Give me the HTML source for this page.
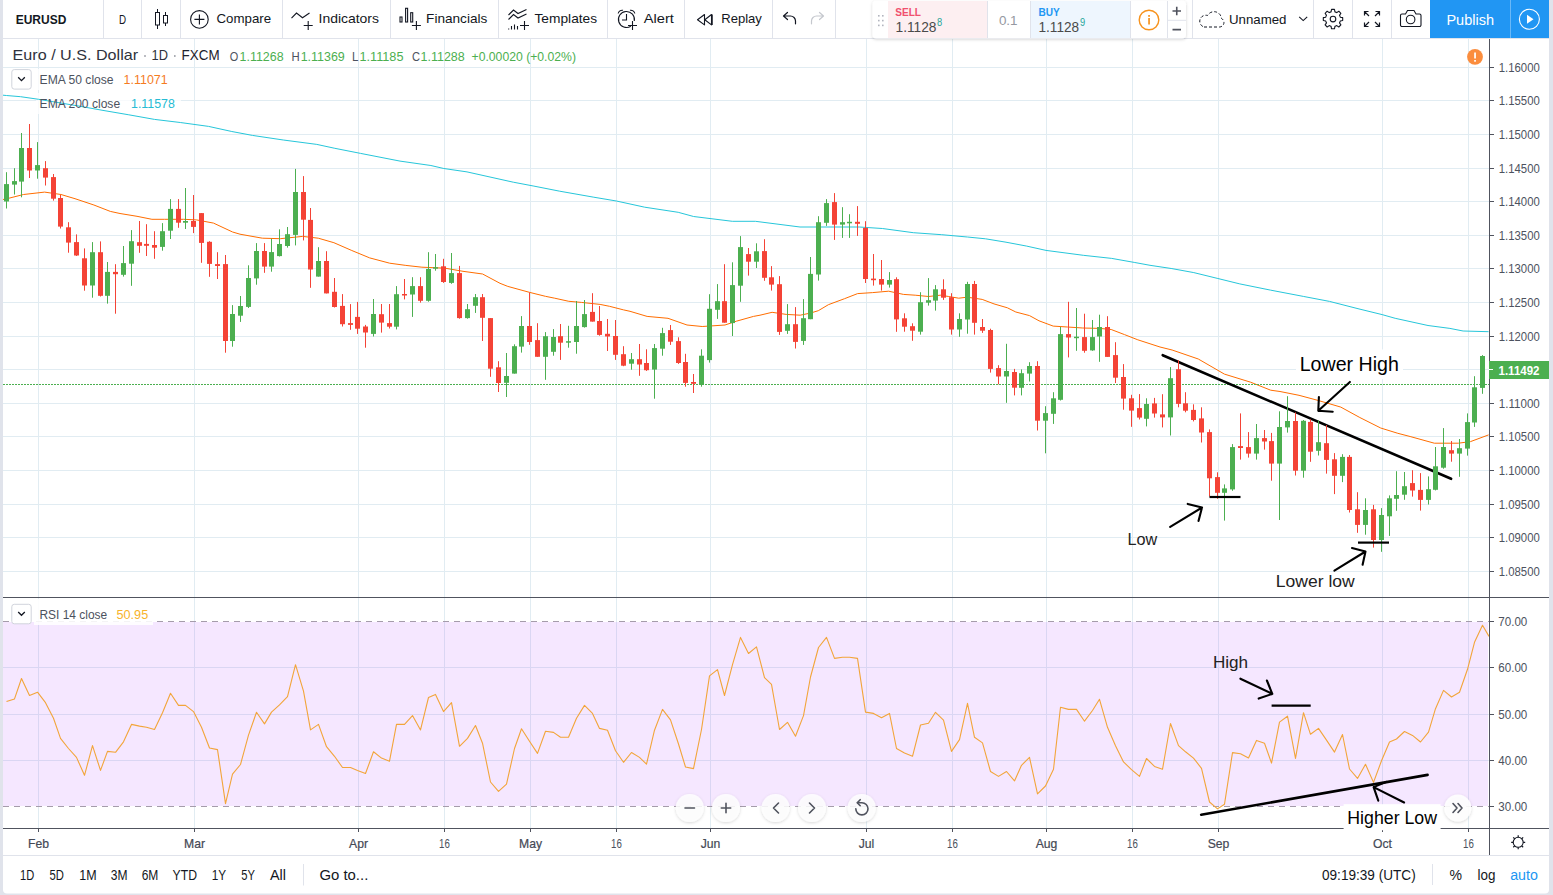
<!DOCTYPE html>
<html><head><meta charset="utf-8"><title>EURUSD chart</title>
<style>
html,body{margin:0;padding:0;background:#e0e3eb;}
body{width:1553px;height:895px;overflow:hidden;}
svg{display:block;font-family:'Liberation Sans', Arial, sans-serif;}
</style></head>
<body>
<svg width="1553" height="895" viewBox="0 0 1553 895">
<rect x="0" y="0" width="1553" height="895" fill="#e0e3eb"/>
<rect x="3" y="0" width="1546" height="38" fill="#fff"/>
<rect x="3" y="39" width="1546" height="816" fill="#fff"/>
<path d="M3 856 H1549 V889.5 a4 4 0 0 1 -4 4 H7 a4 4 0 0 1 -4 -4 Z" fill="#fff"/>
<path d="M38.5 39V597M38.5 598V828M194.5 39V597M194.5 598V828M358.5 39V597M358.5 598V828M444.5 39V597M444.5 598V828M530.5 39V597M530.5 598V828M616.5 39V597M616.5 598V828M710.5 39V597M710.5 598V828M866.5 39V597M866.5 598V828M952.5 39V597M952.5 598V828M1046.5 39V597M1046.5 598V828M1132.5 39V597M1132.5 598V828M1218.5 39V597M1218.5 598V828M1382.5 39V597M1382.5 598V828M1468.5 39V597M1468.5 598V828M3 67.5H1489M3 100.5H1489M3 134.5H1489M3 168.5H1489M3 201.5H1489M3 235.5H1489M3 268.5H1489M3 302.5H1489M3 336.5H1489M3 369.5H1489M3 403.5H1489M3 436.5H1489M3 470.5H1489M3 504.5H1489M3 537.5H1489M3 571.5H1489M3 667.5H1489M3 714.5H1489M3 760.5H1489" stroke="#e1ecf2" stroke-width="1" fill="none"/>
<rect x="36" y="69" width="140" height="21" fill="#fff" fill-opacity="0.75"/>
<rect x="36" y="93" width="145" height="21" fill="#fff" fill-opacity="0.75"/>
<rect x="3" y="622" width="1485" height="184" fill="rgb(153,21,255)" fill-opacity="0.1"/>
<path d="M3 621.5H1489M3 806.5H1489" stroke="#a59cab" stroke-width="1" stroke-dasharray="6 5" fill="none"/>
<path d="M3.0 95.2 L6.4 95.5 L20.6 96.7 L38.6 99.3 L77.3 105.8 L103.0 110.4 L128.8 114.8 L154.5 119.4 L180.3 122.5 L208.6 126.4 L231.8 131.5 L252.4 135.4 L283.3 140.0 L316.8 144.4 L334.8 148.3 L360.6 153.4 L400.0 161.1 L430.9 165.5 L443.8 168.5 L467.0 171.9 L513.3 182.2 L533.9 186.1 L559.7 191.2 L593.2 197.1 L616.4 201.0 L644.7 207.2 L678.2 212.3 L693.6 216.5 L732.3 221.3 L755.4 221.3 L800.0 227.0 L859.2 227.0 L882.4 228.5 L913.3 232.7 L941.7 234.7 L967.4 237.0 L985.5 238.8 L1006.0 242.2 L1026.7 246.1 L1046.0 250.4 L1083.3 255.3 L1111.7 258.4 L1134.8 262.5 L1150.0 265.3 L1171.9 268.6 L1193.8 272.6 L1217.9 278.5 L1239.8 283.9 L1270.4 290.1 L1303.3 296.4 L1329.5 301.4 L1358.0 308.7 L1382.1 314.6 L1395.2 318.3 L1428.0 325.5 L1449.9 328.4 L1463.1 331.0 L1488.6 331.7" stroke="#26c6da" stroke-width="1.0" fill="none" stroke-linejoin="round"/>
<path d="M3.0 199.5 L7.0 198.7 L23.5 194.5 L44.6 192.1 L61.0 194.5 L75.0 198.7 L93.9 205.0 L110.3 211.4 L120.0 213.5 L137.0 216.3 L151.9 219.3 L164.6 219.3 L183.7 219.3 L196.5 219.9 L213.5 223.1 L232.6 232.0 L240.0 234.2 L262.4 238.2 L280.3 238.7 L302.6 236.4 L318.3 238.2 L333.9 242.7 L351.8 250.5 L369.7 257.9 L389.7 263.2 L405.8 265.4 L421.9 267.2 L445.1 268.2 L463.0 271.3 L482.6 274.0 L500.0 283.3 L507.8 286.4 L529.7 292.4 L545.4 296.3 L554.7 298.2 L568.8 301.3 L581.3 302.4 L600.1 304.4 L609.5 306.3 L623.6 309.9 L630.0 311.3 L647.1 316.4 L668.0 318.3 L687.0 325.0 L702.2 326.5 L711.7 325.9 L725.0 325.0 L736.4 321.2 L753.5 316.4 L760.0 315.2 L772.1 312.3 L786.2 314.4 L800.2 315.2 L810.3 313.1 L818.3 310.7 L828.4 304.7 L844.5 298.7 L857.6 293.6 L872.7 292.6 L888.7 291.2 L903.4 294.4 L915.2 295.2 L928.6 296.5 L940.3 295.2 L948.7 296.5 L958.7 298.2 L967.1 297.2 L982.2 299.4 L994.0 303.9 L1007.4 307.8 L1015.8 312.0 L1029.5 315.6 L1039.0 320.8 L1053.2 326.1 L1067.5 327.0 L1082.7 328.0 L1099.8 328.4 L1111.2 329.5 L1124.5 334.6 L1137.8 339.8 L1160.0 347.0 L1172.1 350.0 L1198.3 359.0 L1224.4 374.1 L1250.6 382.2 L1270.7 390.2 L1280.0 391.5 L1299.0 395.3 L1318.0 400.4 L1340.8 407.1 L1359.8 417.5 L1380.7 428.0 L1397.8 433.3 L1410.1 436.5 L1434.3 443.2 L1458.4 443.2 L1470.5 441.6 L1488.6 434.9" stroke="#ff6d00" stroke-width="1.0" fill="none" stroke-linejoin="round"/>
<path d="M3 384.5H1489" stroke="#4caf50" stroke-width="1" stroke-dasharray="2 1" fill="none"/>
<path d="M1162.7 355.2 L1451.1 478.8" stroke="#000" stroke-width="2.6" stroke-linecap="round" fill="none"/>
<rect x="6" y="172.2" width="1" height="36.3" fill="#4caf50"/>
<rect x="4" y="184.1" width="5" height="17.4" fill="#4caf50"/>
<rect x="14" y="168.2" width="1" height="26.3" fill="#4caf50"/>
<rect x="12" y="181.1" width="5" height="3.5" fill="#4caf50"/>
<rect x="21" y="133.0" width="1" height="64.3" fill="#4caf50"/>
<rect x="19" y="148.0" width="5" height="33.6" fill="#4caf50"/>
<rect x="29" y="124.0" width="1" height="54.0" fill="#f44336"/>
<rect x="27" y="148.0" width="5" height="22.5" fill="#f44336"/>
<rect x="37" y="142.1" width="1" height="36.6" fill="#4caf50"/>
<rect x="35" y="165.1" width="5" height="5.4" fill="#4caf50"/>
<rect x="45" y="161.1" width="1" height="24.4" fill="#f44336"/>
<rect x="43" y="168.2" width="5" height="9.4" fill="#f44336"/>
<rect x="53" y="174.0" width="1" height="26.6" fill="#f44336"/>
<rect x="51" y="177.1" width="5" height="21.6" fill="#f44336"/>
<rect x="60" y="195.0" width="1" height="33.5" fill="#f44336"/>
<rect x="58" y="198.0" width="5" height="28.6" fill="#f44336"/>
<rect x="68" y="222.2" width="1" height="30.5" fill="#f44336"/>
<rect x="66" y="227.3" width="5" height="15.3" fill="#f44336"/>
<rect x="76" y="234.4" width="1" height="21.6" fill="#f44336"/>
<rect x="74" y="242.1" width="5" height="13.4" fill="#f44336"/>
<rect x="84" y="248.4" width="1" height="42.3" fill="#f44336"/>
<rect x="82" y="258.3" width="5" height="27.2" fill="#f44336"/>
<rect x="92" y="242.1" width="1" height="55.6" fill="#4caf50"/>
<rect x="90" y="252.2" width="5" height="33.3" fill="#4caf50"/>
<rect x="100" y="241.4" width="1" height="55.1" fill="#f44336"/>
<rect x="98" y="252.2" width="5" height="43.6" fill="#f44336"/>
<rect x="107" y="262.0" width="1" height="41.6" fill="#4caf50"/>
<rect x="105" y="271.9" width="5" height="23.9" fill="#4caf50"/>
<rect x="115" y="264.2" width="1" height="49.5" fill="#f44336"/>
<rect x="113" y="271.9" width="5" height="2.3" fill="#f44336"/>
<rect x="123" y="246.0" width="1" height="30.6" fill="#4caf50"/>
<rect x="121" y="263.1" width="5" height="11.7" fill="#4caf50"/>
<rect x="131" y="230.1" width="1" height="55.7" fill="#4caf50"/>
<rect x="129" y="241.2" width="5" height="22.5" fill="#4caf50"/>
<rect x="139" y="221.0" width="1" height="31.8" fill="#f44336"/>
<rect x="137" y="242.2" width="5" height="3.6" fill="#f44336"/>
<rect x="146" y="224.2" width="1" height="31.8" fill="#f44336"/>
<rect x="144" y="243.9" width="5" height="1.9" fill="#f44336"/>
<rect x="154" y="231.2" width="1" height="27.6" fill="#f44336"/>
<rect x="152" y="245.0" width="5" height="2.7" fill="#f44336"/>
<rect x="162" y="223.1" width="1" height="27.6" fill="#4caf50"/>
<rect x="160" y="231.2" width="5" height="15.7" fill="#4caf50"/>
<rect x="170" y="199.1" width="1" height="39.9" fill="#4caf50"/>
<rect x="168" y="208.9" width="5" height="21.8" fill="#4caf50"/>
<rect x="178" y="199.1" width="1" height="28.7" fill="#f44336"/>
<rect x="176" y="208.9" width="5" height="13.8" fill="#f44336"/>
<rect x="185" y="188.0" width="1" height="41.0" fill="#4caf50"/>
<rect x="183" y="221.0" width="5" height="1.7" fill="#4caf50"/>
<rect x="193" y="195.0" width="1" height="38.1" fill="#f44336"/>
<rect x="191" y="221.0" width="5" height="5.9" fill="#f44336"/>
<rect x="201" y="213.1" width="1" height="49.7" fill="#f44336"/>
<rect x="199" y="213.1" width="5" height="29.8" fill="#f44336"/>
<rect x="209" y="241.2" width="1" height="35.6" fill="#f44336"/>
<rect x="207" y="241.8" width="5" height="22.1" fill="#f44336"/>
<rect x="217" y="252.2" width="1" height="26.8" fill="#f44336"/>
<rect x="215" y="264.1" width="5" height="1.9" fill="#f44336"/>
<rect x="225" y="255.0" width="1" height="97.7" fill="#f44336"/>
<rect x="223" y="264.1" width="5" height="76.9" fill="#f44336"/>
<rect x="232" y="305.1" width="1" height="41.6" fill="#4caf50"/>
<rect x="230" y="314.0" width="5" height="27.0" fill="#4caf50"/>
<rect x="240" y="296.0" width="1" height="25.9" fill="#4caf50"/>
<rect x="238" y="306.0" width="5" height="9.7" fill="#4caf50"/>
<rect x="248" y="265.3" width="1" height="42.7" fill="#4caf50"/>
<rect x="246" y="278.0" width="5" height="28.9" fill="#4caf50"/>
<rect x="256" y="243.1" width="1" height="41.6" fill="#4caf50"/>
<rect x="254" y="251.0" width="5" height="27.4" fill="#4caf50"/>
<rect x="264" y="243.1" width="1" height="29.7" fill="#f44336"/>
<rect x="262" y="251.0" width="5" height="15.6" fill="#f44336"/>
<rect x="271" y="238.7" width="1" height="33.0" fill="#4caf50"/>
<rect x="269" y="252.1" width="5" height="14.5" fill="#4caf50"/>
<rect x="279" y="229.3" width="1" height="27.2" fill="#4caf50"/>
<rect x="277" y="244.0" width="5" height="12.1" fill="#4caf50"/>
<rect x="287" y="227.0" width="1" height="20.6" fill="#4caf50"/>
<rect x="285" y="234.2" width="5" height="11.8" fill="#4caf50"/>
<rect x="295" y="168.9" width="1" height="76.5" fill="#4caf50"/>
<rect x="293" y="192.0" width="5" height="42.9" fill="#4caf50"/>
<rect x="303" y="176.1" width="1" height="64.3" fill="#f44336"/>
<rect x="301" y="192.0" width="5" height="27.7" fill="#f44336"/>
<rect x="310" y="208.0" width="1" height="79.8" fill="#f44336"/>
<rect x="308" y="219.9" width="5" height="49.6" fill="#f44336"/>
<rect x="318" y="247.2" width="1" height="29.4" fill="#4caf50"/>
<rect x="316" y="261.0" width="5" height="15.6" fill="#4caf50"/>
<rect x="326" y="251.2" width="1" height="42.2" fill="#f44336"/>
<rect x="324" y="261.0" width="5" height="32.4" fill="#f44336"/>
<rect x="334" y="278.0" width="1" height="29.5" fill="#f44336"/>
<rect x="332" y="291.8" width="5" height="15.2" fill="#f44336"/>
<rect x="342" y="294.1" width="1" height="32.4" fill="#f44336"/>
<rect x="340" y="305.9" width="5" height="18.3" fill="#f44336"/>
<rect x="350" y="304.1" width="1" height="25.7" fill="#f44336"/>
<rect x="348" y="323.1" width="5" height="1.8" fill="#f44336"/>
<rect x="357" y="301.9" width="1" height="32.0" fill="#f44336"/>
<rect x="355" y="316.9" width="5" height="11.8" fill="#f44336"/>
<rect x="365" y="324.9" width="1" height="22.8" fill="#f44336"/>
<rect x="363" y="326.5" width="5" height="6.0" fill="#f44336"/>
<rect x="373" y="299.0" width="1" height="37.5" fill="#4caf50"/>
<rect x="371" y="314.0" width="5" height="19.9" fill="#4caf50"/>
<rect x="381" y="304.0" width="1" height="28.6" fill="#f44336"/>
<rect x="379" y="314.2" width="5" height="8.4" fill="#f44336"/>
<rect x="389" y="304.0" width="1" height="24.5" fill="#f44336"/>
<rect x="387" y="323.1" width="5" height="3.6" fill="#f44336"/>
<rect x="396" y="286.1" width="1" height="43.3" fill="#4caf50"/>
<rect x="394" y="294.2" width="5" height="32.5" fill="#4caf50"/>
<rect x="404" y="279.0" width="1" height="20.4" fill="#f44336"/>
<rect x="402" y="294.0" width="5" height="1.5" fill="#f44336"/>
<rect x="412" y="277.2" width="1" height="39.7" fill="#4caf50"/>
<rect x="410" y="286.1" width="5" height="8.4" fill="#4caf50"/>
<rect x="420" y="277.2" width="1" height="25.4" fill="#f44336"/>
<rect x="418" y="286.1" width="5" height="14.7" fill="#f44336"/>
<rect x="428" y="252.2" width="1" height="49.5" fill="#4caf50"/>
<rect x="426" y="269.0" width="5" height="31.8" fill="#4caf50"/>
<rect x="435" y="254.0" width="1" height="16.7" fill="#4caf50"/>
<rect x="433" y="267.2" width="5" height="1.5" fill="#4caf50"/>
<rect x="443" y="258.8" width="1" height="24.1" fill="#f44336"/>
<rect x="441" y="266.3" width="5" height="15.7" fill="#f44336"/>
<rect x="451" y="253.0" width="1" height="30.8" fill="#4caf50"/>
<rect x="449" y="273.1" width="5" height="9.8" fill="#4caf50"/>
<rect x="459" y="265.9" width="1" height="52.8" fill="#f44336"/>
<rect x="457" y="273.1" width="5" height="45.0" fill="#f44336"/>
<rect x="467" y="304.0" width="1" height="14.7" fill="#4caf50"/>
<rect x="465" y="309.2" width="5" height="8.9" fill="#4caf50"/>
<rect x="475" y="294.0" width="1" height="18.9" fill="#4caf50"/>
<rect x="473" y="297.2" width="5" height="8.6" fill="#4caf50"/>
<rect x="482" y="294.0" width="1" height="47.0" fill="#f44336"/>
<rect x="480" y="297.2" width="5" height="20.6" fill="#f44336"/>
<rect x="490" y="318.1" width="1" height="58.7" fill="#f44336"/>
<rect x="488" y="318.1" width="5" height="50.6" fill="#f44336"/>
<rect x="498" y="361.2" width="1" height="30.8" fill="#f44336"/>
<rect x="496" y="367.3" width="5" height="15.7" fill="#f44336"/>
<rect x="506" y="353.0" width="1" height="44.0" fill="#4caf50"/>
<rect x="504" y="376.0" width="5" height="6.8" fill="#4caf50"/>
<rect x="514" y="344.3" width="1" height="29.3" fill="#4caf50"/>
<rect x="512" y="346.2" width="5" height="27.4" fill="#4caf50"/>
<rect x="521" y="316.1" width="1" height="36.5" fill="#4caf50"/>
<rect x="519" y="326.0" width="5" height="20.6" fill="#4caf50"/>
<rect x="529" y="292.4" width="1" height="52.4" fill="#f44336"/>
<rect x="527" y="326.0" width="5" height="16.0" fill="#f44336"/>
<rect x="537" y="323.2" width="1" height="33.6" fill="#f44336"/>
<rect x="535" y="340.1" width="5" height="16.7" fill="#f44336"/>
<rect x="545" y="332.1" width="1" height="47.7" fill="#4caf50"/>
<rect x="543" y="336.2" width="5" height="20.6" fill="#4caf50"/>
<rect x="553" y="329.1" width="1" height="26.6" fill="#4caf50"/>
<rect x="551" y="337.0" width="5" height="14.8" fill="#4caf50"/>
<rect x="560" y="324.0" width="1" height="35.9" fill="#f44336"/>
<rect x="558" y="336.2" width="5" height="6.5" fill="#f44336"/>
<rect x="568" y="325.8" width="1" height="21.9" fill="#4caf50"/>
<rect x="566" y="341.2" width="5" height="1.5" fill="#4caf50"/>
<rect x="576" y="301.0" width="1" height="52.7" fill="#4caf50"/>
<rect x="574" y="326.0" width="5" height="16.0" fill="#4caf50"/>
<rect x="584" y="300.0" width="1" height="27.6" fill="#4caf50"/>
<rect x="582" y="314.1" width="5" height="13.0" fill="#4caf50"/>
<rect x="592" y="293.2" width="1" height="28.4" fill="#f44336"/>
<rect x="590" y="311.9" width="5" height="9.7" fill="#f44336"/>
<rect x="599" y="306.0" width="1" height="29.7" fill="#f44336"/>
<rect x="597" y="321.0" width="5" height="13.9" fill="#f44336"/>
<rect x="607" y="319.0" width="1" height="32.0" fill="#f44336"/>
<rect x="605" y="333.8" width="5" height="2.7" fill="#f44336"/>
<rect x="615" y="320.0" width="1" height="39.9" fill="#f44336"/>
<rect x="613" y="336.0" width="5" height="18.8" fill="#f44336"/>
<rect x="623" y="346.2" width="1" height="20.0" fill="#f44336"/>
<rect x="621" y="354.2" width="5" height="11.5" fill="#f44336"/>
<rect x="631" y="353.0" width="1" height="16.7" fill="#4caf50"/>
<rect x="629" y="359.2" width="5" height="4.5" fill="#4caf50"/>
<rect x="639" y="344.0" width="1" height="31.8" fill="#f44336"/>
<rect x="637" y="359.2" width="5" height="5.3" fill="#f44336"/>
<rect x="646" y="349.3" width="1" height="21.6" fill="#f44336"/>
<rect x="644" y="363.0" width="5" height="7.2" fill="#f44336"/>
<rect x="654" y="344.0" width="1" height="54.7" fill="#4caf50"/>
<rect x="652" y="348.1" width="5" height="21.5" fill="#4caf50"/>
<rect x="662" y="327.8" width="1" height="27.9" fill="#4caf50"/>
<rect x="660" y="333.1" width="5" height="15.6" fill="#4caf50"/>
<rect x="670" y="325.0" width="1" height="19.9" fill="#f44336"/>
<rect x="668" y="330.1" width="5" height="11.6" fill="#f44336"/>
<rect x="678" y="337.3" width="1" height="26.6" fill="#f44336"/>
<rect x="676" y="341.1" width="5" height="21.9" fill="#f44336"/>
<rect x="685" y="353.8" width="1" height="32.9" fill="#f44336"/>
<rect x="683" y="362.0" width="5" height="20.9" fill="#f44336"/>
<rect x="693" y="374.0" width="1" height="19.0" fill="#f44336"/>
<rect x="691" y="382.0" width="5" height="1.8" fill="#f44336"/>
<rect x="701" y="349.3" width="1" height="37.4" fill="#4caf50"/>
<rect x="699" y="355.7" width="5" height="29.1" fill="#4caf50"/>
<rect x="709" y="294.2" width="1" height="68.4" fill="#4caf50"/>
<rect x="707" y="308.8" width="5" height="51.3" fill="#4caf50"/>
<rect x="717" y="284.1" width="1" height="34.8" fill="#4caf50"/>
<rect x="715" y="301.2" width="5" height="8.6" fill="#4caf50"/>
<rect x="724" y="264.2" width="1" height="58.5" fill="#f44336"/>
<rect x="722" y="301.2" width="5" height="21.5" fill="#f44336"/>
<rect x="732" y="262.3" width="1" height="73.7" fill="#4caf50"/>
<rect x="730" y="285.1" width="5" height="38.0" fill="#4caf50"/>
<rect x="740" y="236.1" width="1" height="65.7" fill="#4caf50"/>
<rect x="738" y="247.1" width="5" height="38.6" fill="#4caf50"/>
<rect x="748" y="248.0" width="1" height="27.6" fill="#f44336"/>
<rect x="746" y="254.1" width="5" height="7.6" fill="#f44336"/>
<rect x="756" y="243.3" width="1" height="24.7" fill="#4caf50"/>
<rect x="754" y="251.3" width="5" height="10.4" fill="#4caf50"/>
<rect x="764" y="239.2" width="1" height="41.6" fill="#f44336"/>
<rect x="762" y="251.1" width="5" height="26.7" fill="#f44336"/>
<rect x="771" y="266.1" width="1" height="24.5" fill="#f44336"/>
<rect x="769" y="277.3" width="5" height="7.3" fill="#f44336"/>
<rect x="779" y="276.1" width="1" height="58.8" fill="#f44336"/>
<rect x="777" y="284.2" width="5" height="47.7" fill="#f44336"/>
<rect x="787" y="304.1" width="1" height="29.8" fill="#4caf50"/>
<rect x="785" y="324.2" width="5" height="6.6" fill="#4caf50"/>
<rect x="795" y="307.1" width="1" height="41.4" fill="#f44336"/>
<rect x="793" y="324.2" width="5" height="17.7" fill="#f44336"/>
<rect x="803" y="299.1" width="1" height="45.8" fill="#4caf50"/>
<rect x="801" y="318.2" width="5" height="22.7" fill="#4caf50"/>
<rect x="810" y="257.0" width="1" height="62.2" fill="#4caf50"/>
<rect x="808" y="273.9" width="5" height="45.3" fill="#4caf50"/>
<rect x="818" y="216.2" width="1" height="64.4" fill="#4caf50"/>
<rect x="816" y="222.2" width="5" height="52.3" fill="#4caf50"/>
<rect x="826" y="199.1" width="1" height="26.8" fill="#4caf50"/>
<rect x="824" y="203.1" width="5" height="19.7" fill="#4caf50"/>
<rect x="834" y="193.1" width="1" height="46.8" fill="#f44336"/>
<rect x="832" y="202.1" width="5" height="22.5" fill="#f44336"/>
<rect x="842" y="207.2" width="1" height="30.7" fill="#4caf50"/>
<rect x="840" y="222.2" width="5" height="2.4" fill="#4caf50"/>
<rect x="849" y="214.2" width="1" height="23.7" fill="#4caf50"/>
<rect x="847" y="221.8" width="5" height="1.5" fill="#4caf50"/>
<rect x="857" y="206.1" width="1" height="29.8" fill="#f44336"/>
<rect x="855" y="221.8" width="5" height="2.0" fill="#f44336"/>
<rect x="865" y="221.2" width="1" height="61.8" fill="#f44336"/>
<rect x="863" y="227.9" width="5" height="51.1" fill="#f44336"/>
<rect x="873" y="254.0" width="1" height="31.6" fill="#f44336"/>
<rect x="871" y="278.6" width="5" height="1.6" fill="#f44336"/>
<rect x="881" y="260.0" width="1" height="30.6" fill="#f44336"/>
<rect x="879" y="279.0" width="5" height="5.6" fill="#f44336"/>
<rect x="889" y="272.1" width="1" height="15.5" fill="#4caf50"/>
<rect x="887" y="280.0" width="5" height="4.6" fill="#4caf50"/>
<rect x="896" y="277.3" width="1" height="54.5" fill="#f44336"/>
<rect x="894" y="279.2" width="5" height="40.2" fill="#f44336"/>
<rect x="904" y="313.3" width="1" height="18.4" fill="#f44336"/>
<rect x="902" y="318.3" width="5" height="8.4" fill="#f44336"/>
<rect x="912" y="323.3" width="1" height="17.5" fill="#f44336"/>
<rect x="910" y="326.2" width="5" height="4.5" fill="#f44336"/>
<rect x="920" y="292.2" width="1" height="42.4" fill="#4caf50"/>
<rect x="918" y="302.2" width="5" height="29.5" fill="#4caf50"/>
<rect x="928" y="278.1" width="1" height="27.5" fill="#4caf50"/>
<rect x="926" y="300.2" width="5" height="2.5" fill="#4caf50"/>
<rect x="935" y="285.1" width="1" height="25.5" fill="#4caf50"/>
<rect x="933" y="289.3" width="5" height="11.3" fill="#4caf50"/>
<rect x="943" y="279.3" width="1" height="20.6" fill="#f44336"/>
<rect x="941" y="289.3" width="5" height="8.4" fill="#f44336"/>
<rect x="951" y="293.2" width="1" height="41.4" fill="#f44336"/>
<rect x="949" y="297.2" width="5" height="32.3" fill="#f44336"/>
<rect x="959" y="313.3" width="1" height="23.5" fill="#4caf50"/>
<rect x="957" y="319.0" width="5" height="10.5" fill="#4caf50"/>
<rect x="967" y="281.8" width="1" height="51.9" fill="#4caf50"/>
<rect x="965" y="284.0" width="5" height="35.5" fill="#4caf50"/>
<rect x="974" y="280.9" width="1" height="53.7" fill="#f44336"/>
<rect x="972" y="284.0" width="5" height="38.8" fill="#f44336"/>
<rect x="982" y="319.0" width="1" height="13.9" fill="#f44336"/>
<rect x="980" y="327.0" width="5" height="3.7" fill="#f44336"/>
<rect x="990" y="328.7" width="1" height="43.9" fill="#f44336"/>
<rect x="988" y="330.0" width="5" height="38.9" fill="#f44336"/>
<rect x="998" y="365.2" width="1" height="19.1" fill="#f44336"/>
<rect x="996" y="368.1" width="5" height="8.4" fill="#f44336"/>
<rect x="1006" y="343.8" width="1" height="59.0" fill="#4caf50"/>
<rect x="1004" y="371.0" width="5" height="5.5" fill="#4caf50"/>
<rect x="1014" y="368.9" width="1" height="26.5" fill="#f44336"/>
<rect x="1012" y="372.0" width="5" height="15.7" fill="#f44336"/>
<rect x="1021" y="369.4" width="1" height="26.0" fill="#4caf50"/>
<rect x="1019" y="373.2" width="5" height="14.6" fill="#4caf50"/>
<rect x="1029" y="362.2" width="1" height="19.3" fill="#4caf50"/>
<rect x="1027" y="366.0" width="5" height="7.6" fill="#4caf50"/>
<rect x="1037" y="361.2" width="1" height="69.3" fill="#f44336"/>
<rect x="1035" y="366.0" width="5" height="54.7" fill="#f44336"/>
<rect x="1045" y="406.2" width="1" height="47.1" fill="#4caf50"/>
<rect x="1043" y="413.1" width="5" height="7.6" fill="#4caf50"/>
<rect x="1053" y="392.2" width="1" height="31.7" fill="#4caf50"/>
<rect x="1051" y="398.3" width="5" height="15.5" fill="#4caf50"/>
<rect x="1060" y="327.0" width="1" height="73.5" fill="#4caf50"/>
<rect x="1058" y="334.1" width="5" height="65.7" fill="#4caf50"/>
<rect x="1068" y="301.8" width="1" height="55.6" fill="#f44336"/>
<rect x="1066" y="334.1" width="5" height="3.4" fill="#f44336"/>
<rect x="1076" y="308.0" width="1" height="42.8" fill="#4caf50"/>
<rect x="1074" y="336.7" width="5" height="1.5" fill="#4caf50"/>
<rect x="1084" y="313.7" width="1" height="39.0" fill="#f44336"/>
<rect x="1082" y="337.1" width="5" height="13.7" fill="#f44336"/>
<rect x="1092" y="320.0" width="1" height="30.8" fill="#4caf50"/>
<rect x="1090" y="337.1" width="5" height="13.3" fill="#4caf50"/>
<rect x="1099" y="314.7" width="1" height="47.1" fill="#4caf50"/>
<rect x="1097" y="327.0" width="5" height="9.5" fill="#4caf50"/>
<rect x="1107" y="316.2" width="1" height="40.7" fill="#f44336"/>
<rect x="1105" y="327.0" width="5" height="29.9" fill="#f44336"/>
<rect x="1115" y="342.2" width="1" height="40.8" fill="#f44336"/>
<rect x="1113" y="355.1" width="5" height="22.6" fill="#f44336"/>
<rect x="1123" y="364.1" width="1" height="45.6" fill="#f44336"/>
<rect x="1121" y="377.0" width="5" height="21.6" fill="#f44336"/>
<rect x="1131" y="394.8" width="1" height="32.0" fill="#f44336"/>
<rect x="1129" y="398.3" width="5" height="12.3" fill="#f44336"/>
<rect x="1139" y="394.1" width="1" height="25.4" fill="#f44336"/>
<rect x="1137" y="408.1" width="5" height="9.5" fill="#f44336"/>
<rect x="1146" y="398.3" width="1" height="28.1" fill="#4caf50"/>
<rect x="1144" y="404.0" width="5" height="14.8" fill="#4caf50"/>
<rect x="1154" y="397.9" width="1" height="19.7" fill="#f44336"/>
<rect x="1152" y="403.4" width="5" height="10.1" fill="#f44336"/>
<rect x="1162" y="394.2" width="1" height="33.2" fill="#f44336"/>
<rect x="1160" y="414.4" width="5" height="3.0" fill="#f44336"/>
<rect x="1170" y="367.1" width="1" height="68.4" fill="#4caf50"/>
<rect x="1168" y="378.2" width="5" height="39.2" fill="#4caf50"/>
<rect x="1178" y="360.1" width="1" height="47.2" fill="#f44336"/>
<rect x="1176" y="369.2" width="5" height="34.7" fill="#f44336"/>
<rect x="1185" y="392.2" width="1" height="20.1" fill="#f44336"/>
<rect x="1183" y="403.3" width="5" height="7.4" fill="#f44336"/>
<rect x="1193" y="404.3" width="1" height="17.1" fill="#f44336"/>
<rect x="1191" y="409.9" width="5" height="10.1" fill="#f44336"/>
<rect x="1201" y="407.3" width="1" height="35.2" fill="#f44336"/>
<rect x="1199" y="418.4" width="5" height="14.1" fill="#f44336"/>
<rect x="1209" y="429.4" width="1" height="67.0" fill="#f44336"/>
<rect x="1207" y="432.1" width="5" height="46.2" fill="#f44336"/>
<rect x="1217" y="472.3" width="1" height="26.5" fill="#f44336"/>
<rect x="1215" y="477.1" width="5" height="15.7" fill="#f44336"/>
<rect x="1224" y="484.4" width="1" height="36.2" fill="#4caf50"/>
<rect x="1222" y="488.4" width="5" height="4.4" fill="#4caf50"/>
<rect x="1232" y="444.1" width="1" height="46.7" fill="#4caf50"/>
<rect x="1230" y="447.1" width="5" height="42.3" fill="#4caf50"/>
<rect x="1240" y="413.4" width="1" height="46.2" fill="#f44336"/>
<rect x="1238" y="446.1" width="5" height="1.9" fill="#f44336"/>
<rect x="1248" y="432.1" width="1" height="25.5" fill="#f44336"/>
<rect x="1246" y="447.1" width="5" height="6.5" fill="#f44336"/>
<rect x="1256" y="424.0" width="1" height="35.6" fill="#4caf50"/>
<rect x="1254" y="438.1" width="5" height="15.5" fill="#4caf50"/>
<rect x="1264" y="430.0" width="1" height="19.6" fill="#f44336"/>
<rect x="1262" y="438.1" width="5" height="3.4" fill="#f44336"/>
<rect x="1271" y="432.9" width="1" height="47.8" fill="#f44336"/>
<rect x="1269" y="441.1" width="5" height="22.5" fill="#f44336"/>
<rect x="1279" y="411.3" width="1" height="108.7" fill="#4caf50"/>
<rect x="1277" y="427.0" width="5" height="36.6" fill="#4caf50"/>
<rect x="1287" y="396.2" width="1" height="36.4" fill="#4caf50"/>
<rect x="1285" y="421.0" width="5" height="6.4" fill="#4caf50"/>
<rect x="1295" y="412.4" width="1" height="63.1" fill="#f44336"/>
<rect x="1293" y="421.0" width="5" height="49.7" fill="#f44336"/>
<rect x="1303" y="420.0" width="1" height="57.7" fill="#4caf50"/>
<rect x="1301" y="420.8" width="5" height="49.9" fill="#4caf50"/>
<rect x="1310" y="419.4" width="1" height="42.4" fill="#f44336"/>
<rect x="1308" y="421.9" width="5" height="29.8" fill="#f44336"/>
<rect x="1318" y="420.4" width="1" height="35.1" fill="#4caf50"/>
<rect x="1316" y="442.2" width="5" height="8.6" fill="#4caf50"/>
<rect x="1326" y="425.1" width="1" height="48.5" fill="#f44336"/>
<rect x="1324" y="443.2" width="5" height="16.7" fill="#f44336"/>
<rect x="1334" y="453.1" width="1" height="41.0" fill="#f44336"/>
<rect x="1332" y="459.3" width="5" height="16.5" fill="#f44336"/>
<rect x="1342" y="454.2" width="1" height="27.9" fill="#4caf50"/>
<rect x="1340" y="456.9" width="5" height="18.9" fill="#4caf50"/>
<rect x="1349" y="455.0" width="1" height="57.5" fill="#f44336"/>
<rect x="1347" y="456.9" width="5" height="53.1" fill="#f44336"/>
<rect x="1357" y="492.2" width="1" height="40.6" fill="#f44336"/>
<rect x="1355" y="509.3" width="5" height="15.6" fill="#f44336"/>
<rect x="1365" y="498.3" width="1" height="36.4" fill="#4caf50"/>
<rect x="1363" y="510.0" width="5" height="14.9" fill="#4caf50"/>
<rect x="1373" y="504.9" width="1" height="42.7" fill="#f44336"/>
<rect x="1371" y="509.3" width="5" height="30.7" fill="#f44336"/>
<rect x="1381" y="508.1" width="1" height="43.7" fill="#4caf50"/>
<rect x="1379" y="515.0" width="5" height="25.0" fill="#4caf50"/>
<rect x="1389" y="495.4" width="1" height="40.5" fill="#4caf50"/>
<rect x="1387" y="498.3" width="5" height="18.0" fill="#4caf50"/>
<rect x="1396" y="471.2" width="1" height="39.6" fill="#4caf50"/>
<rect x="1394" y="495.0" width="5" height="3.8" fill="#4caf50"/>
<rect x="1404" y="472.0" width="1" height="27.8" fill="#4caf50"/>
<rect x="1402" y="486.2" width="5" height="8.5" fill="#4caf50"/>
<rect x="1412" y="470.2" width="1" height="26.4" fill="#f44336"/>
<rect x="1410" y="483.1" width="5" height="7.4" fill="#f44336"/>
<rect x="1420" y="473.1" width="1" height="37.5" fill="#f44336"/>
<rect x="1418" y="489.9" width="5" height="10.0" fill="#f44336"/>
<rect x="1428" y="476.4" width="1" height="28.1" fill="#4caf50"/>
<rect x="1426" y="489.2" width="5" height="10.7" fill="#4caf50"/>
<rect x="1435" y="447.0" width="1" height="43.4" fill="#4caf50"/>
<rect x="1433" y="466.3" width="5" height="23.5" fill="#4caf50"/>
<rect x="1443" y="428.1" width="1" height="40.6" fill="#4caf50"/>
<rect x="1441" y="447.0" width="5" height="20.7" fill="#4caf50"/>
<rect x="1451" y="441.0" width="1" height="20.7" fill="#f44336"/>
<rect x="1449" y="450.2" width="5" height="3.4" fill="#f44336"/>
<rect x="1459" y="439.0" width="1" height="37.8" fill="#4caf50"/>
<rect x="1457" y="448.2" width="5" height="5.4" fill="#4caf50"/>
<rect x="1467" y="413.4" width="1" height="42.2" fill="#4caf50"/>
<rect x="1465" y="422.1" width="5" height="26.5" fill="#4caf50"/>
<rect x="1474" y="376.2" width="1" height="50.7" fill="#4caf50"/>
<rect x="1472" y="387.3" width="5" height="35.2" fill="#4caf50"/>
<rect x="1482" y="355.1" width="1" height="38.7" fill="#4caf50"/>
<rect x="1480" y="356.0" width="5" height="31.9" fill="#4caf50"/>
<path d="M1209.5 497H1240.5" stroke="#000" stroke-width="2.2" fill="none"/>
<path d="M1170.2 526.9 L1202 507.5 M1187.7 503.9 L1202 507.5 L1198.5 521" stroke-width="2.1" stroke="#000" fill="none" stroke-linecap="round" stroke-linejoin="round"/>
<text x="1127.6" y="544.7" font-size="16" fill="#222" textLength="29.7" lengthAdjust="spacingAndGlyphs">Low</text>
<path d="M1358 542.6H1389" stroke="#000" stroke-width="2.2" fill="none"/>
<path d="M1334.4 570.7 L1365.5 551.5 M1352 548 L1365.5 551.5 L1362.6 564.7" stroke-width="2.1" stroke="#000" fill="none" stroke-linecap="round" stroke-linejoin="round"/>
<text x="1275.8" y="586.8" font-size="16" fill="#222" textLength="78.9" lengthAdjust="spacingAndGlyphs">Lower low</text>
<rect x="1296" y="349.5" width="107" height="29.7" fill="#fff"/>
<text x="1299.7" y="371.1" font-size="20" fill="#000" textLength="99.1" lengthAdjust="spacingAndGlyphs">Lower High</text>
<path d="M1349.9 381.9 L1318.3 410.8 M1318.9 397 L1318.3 410.8 L1332.7 411.7" stroke-width="2.1" stroke="#000" fill="none" stroke-linecap="round" stroke-linejoin="round"/>
<path d="M6.5 701.6 L14.5 698.9 L21.5 678.5 L29.5 695.5 L37.5 692.2 L45.5 702.7 L53.5 718.3 L60.5 738.4 L68.5 748.5 L76.5 757.4 L84.5 775.3 L92.5 745.6 L100.5 770.4 L107.5 751.4 L115.5 752.3 L123.5 741.8 L131.5 724.4 L139.5 726.1 L146.5 727.3 L154.5 729.5 L162.5 712.7 L170.5 693.3 L178.5 705.4 L185.5 705.4 L193.5 711.6 L201.5 727.3 L209.5 748.0 L217.5 749.6 L225.5 803.7 L232.5 774.2 L240.5 764.5 L248.5 735.1 L256.5 712.3 L264.5 723.9 L271.5 712.1 L279.5 704.9 L287.5 696.6 L295.5 664.7 L303.5 691.1 L310.5 729.9 L318.5 724.4 L326.5 746.7 L334.5 756.3 L342.5 767.5 L350.5 767.5 L357.5 770.4 L365.5 773.5 L373.5 751.8 L381.5 758.1 L389.5 761.2 L396.5 724.4 L404.5 724.4 L412.5 715.6 L420.5 729.9 L428.5 697.5 L435.5 694.4 L443.5 711.6 L451.5 702.7 L459.5 746.3 L467.5 738.4 L475.5 725.5 L482.5 743.2 L490.5 782.0 L498.5 791.4 L506.5 784.2 L514.5 748.5 L521.5 728.8 L529.5 741.3 L537.5 753.4 L545.5 731.3 L553.5 732.4 L560.5 737.3 L568.5 737.3 L576.5 718.3 L584.5 705.4 L592.5 713.4 L599.5 728.4 L607.5 730.2 L615.5 750.7 L623.5 762.3 L631.5 752.5 L639.5 757.4 L646.5 764.1 L654.5 730.2 L662.5 709.4 L670.5 719.9 L678.5 744.0 L685.5 767.0 L693.5 768.6 L701.5 729.5 L709.5 675.9 L717.5 669.6 L724.5 695.5 L732.5 664.7 L740.5 637.4 L748.5 653.5 L756.5 646.8 L764.5 677.7 L771.5 684.4 L779.5 729.5 L787.5 722.3 L795.5 736.2 L803.5 715.6 L810.5 677.0 L818.5 647.5 L826.5 637.4 L834.5 658.4 L842.5 657.3 L849.5 657.3 L857.5 658.4 L865.5 712.1 L873.5 713.4 L881.5 717.7 L889.5 713.4 L896.5 748.5 L904.5 753.0 L912.5 756.3 L920.5 725.0 L928.5 723.2 L935.5 712.3 L943.5 720.1 L951.5 751.4 L959.5 739.6 L967.5 703.4 L974.5 737.3 L982.5 742.9 L990.5 771.5 L998.5 776.4 L1006.5 771.5 L1014.5 780.9 L1021.5 765.3 L1029.5 757.4 L1037.5 793.9 L1045.5 786.0 L1053.5 769.3 L1060.5 707.2 L1068.5 709.4 L1076.5 709.4 L1084.5 721.2 L1092.5 710.5 L1099.5 699.3 L1107.5 727.3 L1115.5 745.8 L1123.5 761.9 L1131.5 769.7 L1139.5 776.4 L1146.5 758.5 L1154.5 766.4 L1162.5 769.3 L1170.5 723.5 L1178.5 745.6 L1185.5 751.8 L1193.5 758.1 L1201.5 768.3 L1209.5 802.0 L1217.5 808.9 L1224.5 804.2 L1232.5 752.6 L1240.5 753.7 L1248.5 758.0 L1256.5 740.4 L1264.5 743.2 L1271.5 763.1 L1279.5 722.1 L1287.5 716.2 L1295.5 758.4 L1303.5 712.7 L1310.5 734.3 L1318.5 728.4 L1326.5 740.1 L1334.5 752.1 L1342.5 734.5 L1349.5 769.0 L1357.5 778.4 L1365.5 764.3 L1373.5 782.4 L1381.5 760.8 L1389.5 742.0 L1396.5 739.0 L1404.5 731.5 L1412.5 735.4 L1420.5 742.0 L1428.5 732.2 L1435.5 708.7 L1443.5 690.4 L1451.5 697.0 L1459.5 692.3 L1467.5 669.3 L1474.5 642.3 L1482.5 625.2 L1489.0 636.4" stroke="#f2a53a" stroke-width="1.1" fill="none" stroke-linejoin="round"/>
<path d="M1201.2 814.7 L1427.6 774.9" stroke="#000" stroke-width="2.6" stroke-linecap="round" fill="none"/>
<path d="M1271.6 705.6H1310.7" stroke="#000" stroke-width="2.2" fill="none"/>
<path d="M1240.4 678.7 L1272.3 693.9 M1266.9 680.5 L1272.3 693.9 L1258.7 698.6" stroke-width="2.1" stroke="#000" fill="none" stroke-linecap="round" stroke-linejoin="round"/>
<text x="1212.9" y="668.1" font-size="16" fill="#222" textLength="35.2" lengthAdjust="spacingAndGlyphs">High</text>
<path d="M3 597.5H1549" stroke="#50535e" stroke-width="1"/>
<path d="M3 828.5H1549" stroke="#50535e" stroke-width="1"/>
<path d="M1489.5 39V855" stroke="#50535e" stroke-width="1"/>
<path d="M1489 67.5H1494M1489 100.5H1494M1489 134.5H1494M1489 168.5H1494M1489 201.5H1494M1489 235.5H1494M1489 268.5H1494M1489 302.5H1494M1489 336.5H1494M1489 369.5H1494M1489 403.5H1494M1489 436.5H1494M1489 470.5H1494M1489 504.5H1494M1489 537.5H1494M1489 571.5H1494M1489 621.5H1494M1489 667.5H1494M1489 714.5H1494M1489 760.5H1494M1489 806.5H1494M38.5 828V832M194.5 828V832M358.5 828V832M444.5 828V832M530.5 828V832M616.5 828V832M710.5 828V832M866.5 828V832M952.5 828V832M1046.5 828V832M1132.5 828V832M1218.5 828V832M1382.5 828V832M1468.5 828V832" stroke="#50535e" stroke-width="1"/>
<text x="1498.8" y="71.7" font-size="12" fill="#4c525e" textLength="41" lengthAdjust="spacingAndGlyphs">1.16000</text>
<text x="1498.8" y="104.7" font-size="12" fill="#4c525e" textLength="41" lengthAdjust="spacingAndGlyphs">1.15500</text>
<text x="1498.8" y="138.7" font-size="12" fill="#4c525e" textLength="41" lengthAdjust="spacingAndGlyphs">1.15000</text>
<text x="1498.8" y="172.7" font-size="12" fill="#4c525e" textLength="41" lengthAdjust="spacingAndGlyphs">1.14500</text>
<text x="1498.8" y="205.7" font-size="12" fill="#4c525e" textLength="41" lengthAdjust="spacingAndGlyphs">1.14000</text>
<text x="1498.8" y="239.7" font-size="12" fill="#4c525e" textLength="41" lengthAdjust="spacingAndGlyphs">1.13500</text>
<text x="1498.8" y="272.7" font-size="12" fill="#4c525e" textLength="41" lengthAdjust="spacingAndGlyphs">1.13000</text>
<text x="1498.8" y="306.7" font-size="12" fill="#4c525e" textLength="41" lengthAdjust="spacingAndGlyphs">1.12500</text>
<text x="1498.8" y="340.7" font-size="12" fill="#4c525e" textLength="41" lengthAdjust="spacingAndGlyphs">1.12000</text>
<text x="1498.8" y="407.7" font-size="12" fill="#4c525e" textLength="41" lengthAdjust="spacingAndGlyphs">1.11000</text>
<text x="1498.8" y="440.7" font-size="12" fill="#4c525e" textLength="41" lengthAdjust="spacingAndGlyphs">1.10500</text>
<text x="1498.8" y="474.7" font-size="12" fill="#4c525e" textLength="41" lengthAdjust="spacingAndGlyphs">1.10000</text>
<text x="1498.8" y="508.7" font-size="12" fill="#4c525e" textLength="41" lengthAdjust="spacingAndGlyphs">1.09500</text>
<text x="1498.8" y="541.7" font-size="12" fill="#4c525e" textLength="41" lengthAdjust="spacingAndGlyphs">1.09000</text>
<text x="1498.8" y="575.7" font-size="12" fill="#4c525e" textLength="41" lengthAdjust="spacingAndGlyphs">1.08500</text>
<text x="1498.3" y="625.8" font-size="12" fill="#4c525e" textLength="29" lengthAdjust="spacingAndGlyphs">70.00</text>
<text x="1498.3" y="671.8" font-size="12" fill="#4c525e" textLength="29" lengthAdjust="spacingAndGlyphs">60.00</text>
<text x="1498.3" y="718.8" font-size="12" fill="#4c525e" textLength="29" lengthAdjust="spacingAndGlyphs">50.00</text>
<text x="1498.3" y="764.8" font-size="12" fill="#4c525e" textLength="29" lengthAdjust="spacingAndGlyphs">40.00</text>
<text x="1498.3" y="810.8" font-size="12" fill="#4c525e" textLength="29" lengthAdjust="spacingAndGlyphs">30.00</text>
<rect x="1489" y="361" width="60" height="18" fill="#4caf50"/>
<path d="M1489 369.5H1493" stroke="#fff" stroke-width="1"/>
<text x="1498.5" y="374.6" font-size="12" fill="#fff" font-weight="bold" textLength="41" lengthAdjust="spacingAndGlyphs">1.11492</text>
<text x="38.5" y="848" font-size="12.2" fill="#454955" text-anchor="middle" stroke="#454955" stroke-width="0.2">Feb</text>
<text x="194.5" y="848" font-size="12.2" fill="#454955" text-anchor="middle" stroke="#454955" stroke-width="0.2">Mar</text>
<text x="358.5" y="848" font-size="12.2" fill="#454955" text-anchor="middle" stroke="#454955" stroke-width="0.2">Apr</text>
<text x="444.5" y="848" font-size="12.2" fill="#4c525e" text-anchor="middle" textLength="10.8" lengthAdjust="spacingAndGlyphs">16</text>
<text x="530.5" y="848" font-size="12.2" fill="#454955" text-anchor="middle" stroke="#454955" stroke-width="0.2">May</text>
<text x="616.5" y="848" font-size="12.2" fill="#4c525e" text-anchor="middle" textLength="10.8" lengthAdjust="spacingAndGlyphs">16</text>
<text x="710.5" y="848" font-size="12.2" fill="#454955" text-anchor="middle" stroke="#454955" stroke-width="0.2">Jun</text>
<text x="866.5" y="848" font-size="12.2" fill="#454955" text-anchor="middle" stroke="#454955" stroke-width="0.2">Jul</text>
<text x="952.5" y="848" font-size="12.2" fill="#4c525e" text-anchor="middle" textLength="10.8" lengthAdjust="spacingAndGlyphs">16</text>
<text x="1046.5" y="848" font-size="12.2" fill="#454955" text-anchor="middle" stroke="#454955" stroke-width="0.2">Aug</text>
<text x="1132.5" y="848" font-size="12.2" fill="#4c525e" text-anchor="middle" textLength="10.8" lengthAdjust="spacingAndGlyphs">16</text>
<text x="1218.5" y="848" font-size="12.2" fill="#454955" text-anchor="middle" stroke="#454955" stroke-width="0.2">Sep</text>
<text x="1382.5" y="848" font-size="12.2" fill="#454955" text-anchor="middle" stroke="#454955" stroke-width="0.2">Oct</text>
<text x="1468.5" y="848" font-size="12.2" fill="#4c525e" text-anchor="middle" textLength="10.8" lengthAdjust="spacingAndGlyphs">16</text>
<rect x="1343.6" y="804.2" width="97" height="26" fill="#fff"/>
<path d="M1404.1 802.5 L1373.6 787.1 M1386.5 781.9 L1373.6 787.1 L1378.3 800.7" stroke-width="2.1" stroke="#000" fill="none" stroke-linecap="round" stroke-linejoin="round"/>
<text x="1347.3" y="823.7" font-size="17.7" fill="#000" textLength="89.7" lengthAdjust="spacingAndGlyphs">Higher Low</text>
<path d="M3 38.5H1549" stroke="#e0e3eb" stroke-width="1"/>
<path d="M103.5 0V38M141.5 0V38M180.5 0V38M282.5 0V38M390.5 0V38M498.5 0V38M607.5 0V38M684.5 0V38M772.5 0V38M835.5 0V38M1192.5 0V38M1313.5 0V38M1352.5 0V38M1391.5 0V38" stroke="#e0e3eb" stroke-width="1"/>
<text x="15.7" y="24.1" font-size="13" fill="#131722" font-weight="bold" textLength="50.6" lengthAdjust="spacingAndGlyphs">EURUSD</text>
<text x="119.1" y="24.1" font-size="13" fill="#131722" textLength="7.1" lengthAdjust="spacingAndGlyphs">D</text>
<g stroke="#131722" stroke-width="1" fill="none"><path d="M157.5 9V12.5M157.5 25V29M165.5 12V15.5M165.5 23V26"/><rect x="155.5" y="12.5" width="4" height="12.5"/><rect x="163.5" y="15.5" width="4" height="7.5"/></g>
<g stroke="#131722" stroke-width="1.1" fill="none"><circle cx="199.4" cy="19.4" r="8.8"/><path d="M199.4 14.4V24.4M194.4 19.4H204.4"/></g>
<text x="216.5" y="23.4" font-size="13" fill="#131722" textLength="54.6" lengthAdjust="spacingAndGlyphs">Compare</text>
<g stroke="#131722" stroke-width="1.1" fill="none"><path d="M291.5 18.2 L296.5 13 L302.5 17.7 L309.5 13"/><path d="M308.2 21V30M303.7 25.5H312.7"/></g>
<text x="318.5" y="23.4" font-size="13" fill="#131722" textLength="60.5" lengthAdjust="spacingAndGlyphs">Indicators</text>
<g stroke="#131722" stroke-width="1.1" fill="none"><rect x="400" y="17" width="2" height="5"/><rect x="405.6" y="8.3" width="2" height="13.7"/><rect x="410.7" y="12.7" width="2" height="9.3"/><path d="M416.4 21V30M411.9 25.5H420.9"/></g>
<text x="426.1" y="23.4" font-size="13" fill="#131722" textLength="61.2" lengthAdjust="spacingAndGlyphs">Financials</text>
<g stroke="#131722" stroke-width="1.1" fill="none"><path d="M508.5 15 L513.5 10 L518 13.5 L526.5 9.5M508.5 19.5 L513.5 14.5 L518 18 L526.5 14"/><path d="M508.7 28.5V29.5M511.5 26V29.5M514.5 24.5V29.5M517.5 26V29.5M524.5 21V30M520 25.5H529"/></g>
<text x="534.5" y="23.4" font-size="13" fill="#131722" textLength="62.6" lengthAdjust="spacingAndGlyphs">Templates</text>
<g stroke="#131722" stroke-width="1.1" fill="none"><path d="M630.8 26.2 A8 8 0 1 1 634.3 21"/><path d="M626.5 14V20H622"/><path d="M618.2 13.5 A4 4 0 0 1 623 10.3M630 10.3 A4 4 0 0 1 634.8 13.5"/><path d="M632.5 21V30M628 25.5H637"/></g>
<text x="643.8" y="23.4" font-size="13" fill="#131722" textLength="30.1" lengthAdjust="spacingAndGlyphs">Alert</text>
<g stroke="#131722" stroke-width="1.1" fill="none" stroke-linejoin="round"><path d="M704.5 14.5 L697.5 19.7 L704.5 24.9 Z"/><path d="M711.5 14.5 L704.8 19.7 L711.5 24.9 Z"/><path d="M712.2 14.5V24.9"/></g>
<text x="721.2" y="23.4" font-size="13" fill="#131722" textLength="40.7" lengthAdjust="spacingAndGlyphs">Replay</text>
<path d="M795.5 23.8 V21 A5 5 0 0 0 790.5 16H783.5M787.5 12.5 L783.5 16 L787.5 19.5" stroke="#131722" stroke-width="1.2" fill="none" stroke-linejoin="round" stroke-linecap="round"/>
<path d="M811.5 23.8 V21 A5 5 0 0 1 816.5 16H823.5M819.5 12.5 L823.5 16 L819.5 19.5" stroke="#c5c8ce" stroke-width="1.2" fill="none" stroke-linejoin="round" stroke-linecap="round"/>
<path d="M1204 27 H1219.5 A4.5 4.5 0 0 0 1221.5 18.5 A7.5 7.5 0 0 0 1207.5 15.5 A5.8 5.8 0 0 0 1204 27 Z" stroke="#131722" stroke-width="1" stroke-dasharray="3 2" fill="none"/>
<text x="1229" y="23.8" font-size="13" fill="#131722" textLength="57.5" lengthAdjust="spacingAndGlyphs">Unnamed</text>
<path d="M1299.2 16.8 L1303.2 20.6 L1307.2 16.8" stroke="#131722" stroke-width="1.1" fill="none"/>
<path d="M1340.25 17.17 L1342.69 17.64 L1342.69 20.56 L1340.25 21.03 A7.50 7.50 0 0 1 1339.49 22.86 L1340.89 24.92 L1338.82 26.99 L1336.76 25.59 A7.50 7.50 0 0 1 1334.93 26.35 L1334.46 28.79 L1331.54 28.79 L1331.07 26.35 A7.50 7.50 0 0 1 1329.24 25.59 L1327.18 26.99 L1325.11 24.92 L1326.51 22.86 A7.50 7.50 0 0 1 1325.75 21.03 L1323.31 20.56 L1323.31 17.64 L1325.75 17.17 A7.50 7.50 0 0 1 1326.51 15.34 L1325.11 13.28 L1327.18 11.21 L1329.24 12.61 A7.50 7.50 0 0 1 1331.07 11.85 L1331.54 9.41 L1334.46 9.41 L1334.93 11.85 A7.50 7.50 0 0 1 1336.76 12.61 L1338.82 11.21 L1340.89 13.28 L1339.49 15.34 A7.50 7.50 0 0 1 1340.25 17.17 Z" stroke="#131722" stroke-width="1.1" fill="none" stroke-linejoin="round"/>
<circle cx="1333" cy="19.1" r="2.8" stroke="#131722" stroke-width="1.1" fill="none"/>
<path d="M1364.5 15.5V11.5H1368.5M1364.5 11.5L1369 16M1379.5 15.5V11.5H1375.5M1379.5 11.5L1375 16M1364.5 22.5V26.5H1368.5M1364.5 26.5L1369 22M1379.5 22.5V26.5H1375.5M1379.5 26.5L1375 22" stroke="#131722" stroke-width="1.2" fill="none"/>
<path d="M1402 14 H1405.5 L1407.5 10.5 H1414 L1416 14 H1419.5 A1.5 1.5 0 0 1 1421 15.5 V25 A1.5 1.5 0 0 1 1419.5 26.5 H1402 A1.5 1.5 0 0 1 1400.5 25 V15.5 A1.5 1.5 0 0 1 1402 14Z" stroke="#131722" stroke-width="1.1" fill="none"/>
<circle cx="1410.6" cy="19.5" r="4.3" stroke="#131722" stroke-width="1.1" fill="none"/>
<rect x="1430" y="0" width="119" height="38" fill="#2196f3"/>
<path d="M1510.5 0V38" stroke="#6ab8f7" stroke-width="1"/>
<text x="1446.4" y="24.5" font-size="14" fill="#fff" textLength="47.6" lengthAdjust="spacingAndGlyphs">Publish</text>
<circle cx="1529.4" cy="19.3" r="10" stroke="#fff" stroke-width="1.1" fill="none"/>
<path d="M1527 14.8 L1533.5 19.3 L1527 23.8Z" fill="#fff"/>
<defs><filter id="sh" x="-10%" y="-30%" width="120%" height="180%"><feDropShadow dx="0" dy="1" stdDeviation="1.5" flood-color="#000" flood-opacity="0.18"/></filter></defs>
<rect x="872.5" y="0.5" width="313.5" height="38" rx="4" fill="#fff" filter="url(#sh)"/>
<rect x="888" y="1" width="99.5" height="37" fill="#fdeff1"/>
<rect x="1031" y="1" width="99.5" height="37" fill="#eef6fe"/>
<path d="M987.5 1V38M1030.5 1V38M1130.5 1V38M1167.5 1V38M1168 20.3H1186" stroke="#e0e3eb" stroke-width="1"/>
<rect x="878" y="15" width="1.6" height="1.6" fill="#b2b5be"/>
<rect x="882" y="15" width="1.6" height="1.6" fill="#b2b5be"/>
<rect x="878" y="19.8" width="1.6" height="1.6" fill="#b2b5be"/>
<rect x="882" y="19.8" width="1.6" height="1.6" fill="#b2b5be"/>
<rect x="878" y="24.6" width="1.6" height="1.6" fill="#b2b5be"/>
<rect x="882" y="24.6" width="1.6" height="1.6" fill="#b2b5be"/>
<text x="895.3" y="15.7" font-size="11.5" fill="#f0506e" font-weight="bold" textLength="25.7" lengthAdjust="spacingAndGlyphs">SELL</text>
<text x="895.5" y="31.6" font-size="14" fill="#4a4a4a" textLength="41" lengthAdjust="spacingAndGlyphs">1.1128</text>
<text x="937.1" y="25.5" font-size="10" fill="#26a69a" textLength="5.2" lengthAdjust="spacingAndGlyphs">8</text>
<text x="998.9" y="24.7" font-size="13" fill="#9598a1" textLength="18.7" lengthAdjust="spacingAndGlyphs">0.1</text>
<text x="1038.5" y="15.7" font-size="11.5" fill="#2196f3" font-weight="bold" textLength="21.3" lengthAdjust="spacingAndGlyphs">BUY</text>
<text x="1038.5" y="31.6" font-size="14" fill="#4a4a4a" textLength="40.6" lengthAdjust="spacingAndGlyphs">1.1128</text>
<text x="1080.1" y="25.5" font-size="10" fill="#26a69a" textLength="5.2" lengthAdjust="spacingAndGlyphs">9</text>
<circle cx="1149" cy="20" r="9.8" stroke="#f7931e" stroke-width="1.4" fill="none"/>
<rect x="1148.2" y="15" width="1.7" height="1.8" fill="#f7931e"/><rect x="1148.2" y="18" width="1.7" height="6.5" fill="#f7931e"/>
<path d="M1172.5 11H1181M1176.75 6.75V15.25M1172.5 29.6H1181" stroke="#50535e" stroke-width="1.6"/>
<text x="12.6" y="60.3" font-size="14.2" fill="#2f323c" textLength="125.5" lengthAdjust="spacingAndGlyphs">Euro / U.S. Dollar</text>
<rect x="144.2" y="55.2" width="1.6" height="1.6" fill="#9598a1"/><rect x="174" y="55.2" width="1.6" height="1.6" fill="#9598a1"/>
<text x="151.6" y="60.3" font-size="14.2" fill="#2f323c" textLength="16.4" lengthAdjust="spacingAndGlyphs">1D</text>
<text x="181.6" y="60.3" font-size="14.2" fill="#1e222d" textLength="38" lengthAdjust="spacingAndGlyphs">FXCM</text>
<text x="229.8" y="60.8" font-size="12" fill="#4c525e" textLength="8.5" lengthAdjust="spacingAndGlyphs">O</text>
<text x="239.6" y="60.8" font-size="12" fill="#4caf50" textLength="44" lengthAdjust="spacingAndGlyphs">1.11268</text>
<text x="291.4" y="60.8" font-size="12" fill="#4c525e" textLength="8.2" lengthAdjust="spacingAndGlyphs">H</text>
<text x="300.7" y="60.8" font-size="12" fill="#4caf50" textLength="44.1" lengthAdjust="spacingAndGlyphs">1.11369</text>
<text x="352.1" y="60.8" font-size="12" fill="#4c525e" textLength="6.4" lengthAdjust="spacingAndGlyphs">L</text>
<text x="359.5" y="60.8" font-size="12" fill="#4caf50" textLength="44" lengthAdjust="spacingAndGlyphs">1.11185</text>
<text x="412.1" y="60.8" font-size="12" fill="#4c525e" textLength="8" lengthAdjust="spacingAndGlyphs">C</text>
<text x="420.6" y="60.8" font-size="12" fill="#4caf50" textLength="44.1" lengthAdjust="spacingAndGlyphs">1.11288</text>
<text x="471.5" y="60.8" font-size="12" fill="#4caf50" textLength="104.5" lengthAdjust="spacingAndGlyphs">+0.00020 (+0.02%)</text>
<rect x="11.8" y="69.6" width="19.4" height="19.5" rx="2.5" fill="#fff" stroke="#d1d4dc" stroke-width="1"/>
<path d="M18.2 77.3 L21.5 80.6 L24.8 77.3" stroke="#131722" stroke-width="1.3" fill="none"/>
<text x="39.6" y="83.5" font-size="12" fill="#4c525e" textLength="74" lengthAdjust="spacingAndGlyphs">EMA 50 close</text>
<text x="123.6" y="83.5" font-size="12" fill="#f57c1f" textLength="44.1" lengthAdjust="spacingAndGlyphs">1.11071</text>
<text x="39.6" y="107.6" font-size="12" fill="#4c525e" textLength="80.5" lengthAdjust="spacingAndGlyphs">EMA 200 close</text>
<text x="131" y="107.6" font-size="12" fill="#26bcd4" textLength="43.8" lengthAdjust="spacingAndGlyphs">1.11578</text>
<rect x="34" y="599" width="119" height="26" fill="#fff" fill-opacity="0.88"/>
<rect x="11.8" y="604.3" width="19.4" height="19.5" rx="2.5" fill="#fff" stroke="#d1d4dc" stroke-width="1"/>
<path d="M18.2 612 L21.5 615.3 L24.8 612" stroke="#131722" stroke-width="1.3" fill="none"/>
<text x="39.4" y="618.6" font-size="12" fill="#4c525e" textLength="67.8" lengthAdjust="spacingAndGlyphs">RSI 14 close</text>
<text x="116.5" y="618.6" font-size="12" fill="#f7b32b" textLength="31.7" lengthAdjust="spacingAndGlyphs">50.95</text>
<circle cx="1475" cy="56.8" r="7.9" fill="#fb8d3d"/>
<rect x="1474.2" y="52.5" width="1.7" height="6" fill="#fff"/><rect x="1474.2" y="60" width="1.7" height="1.7" fill="#fff"/>
<circle cx="689.8" cy="808" r="14" fill="#fff" fill-opacity="0.85" filter="url(#sh)"/>
<circle cx="726" cy="808" r="14" fill="#fff" fill-opacity="0.85" filter="url(#sh)"/>
<circle cx="775.6" cy="808" r="14" fill="#fff" fill-opacity="0.85" filter="url(#sh)"/>
<circle cx="812" cy="808" r="14" fill="#fff" fill-opacity="0.85" filter="url(#sh)"/>
<circle cx="861.7" cy="808" r="14" fill="#fff" fill-opacity="0.85" filter="url(#sh)"/>
<g stroke="#50535e" stroke-width="1.6" fill="none" stroke-linecap="round" stroke-linejoin="round"><path d="M685 808H694.5M721.3 808H730.7M726 803.3V812.7"/><path d="M778.5 803 L773.5 808 L778.5 813M809.5 803 L814.5 808 L809.5 813"/><path d="M857.6 802.7 H861.9 A6.1 6.1 0 1 1 855.8 808.8"/><path d="M860.2 799.7 L857.2 802.7 L860.2 805.7"/></g>
<circle cx="1457.8" cy="808" r="13.5" fill="#fff" fill-opacity="0.9" filter="url(#sh)"/>
<path d="M1453 803.5 L1457 808 L1453 812.5M1458 803.5 L1462 808 L1458 812.5" stroke="#50535e" stroke-width="1.6" fill="none" stroke-linecap="round" stroke-linejoin="round"/>
<circle cx="1518.2" cy="842.3" r="5" stroke="#131722" stroke-width="1.1" fill="none"/>
<path d="M1523.20 842.30L1525.20 842.30M1521.74 845.84L1523.15 847.25M1518.20 847.30L1518.20 849.30M1514.66 845.84L1513.25 847.25M1513.20 842.30L1511.20 842.30M1514.66 838.76L1513.25 837.35M1518.20 837.30L1518.20 835.30M1521.74 838.76L1523.15 837.35" stroke="#131722" stroke-width="1.2"/>
<path d="M3 855.5H1549" stroke="#e0e3eb" stroke-width="1"/>
<text x="20.1" y="880.4" font-size="14" fill="#131722" textLength="14.2" lengthAdjust="spacingAndGlyphs">1D</text>
<text x="49.5" y="880.4" font-size="14" fill="#131722" textLength="14.4" lengthAdjust="spacingAndGlyphs">5D</text>
<text x="79.3" y="880.4" font-size="14" fill="#131722" textLength="17.3" lengthAdjust="spacingAndGlyphs">1M</text>
<text x="110.8" y="880.4" font-size="14" fill="#131722" textLength="16.7" lengthAdjust="spacingAndGlyphs">3M</text>
<text x="141.7" y="880.4" font-size="14" fill="#131722" textLength="16.7" lengthAdjust="spacingAndGlyphs">6M</text>
<text x="172.6" y="880.4" font-size="14" fill="#131722" textLength="24.4" lengthAdjust="spacingAndGlyphs">YTD</text>
<text x="211.7" y="880.4" font-size="14" fill="#131722" textLength="14.4" lengthAdjust="spacingAndGlyphs">1Y</text>
<text x="241.3" y="880.4" font-size="14" fill="#131722" textLength="13.7" lengthAdjust="spacingAndGlyphs">5Y</text>
<text x="269.9" y="880.4" font-size="14" fill="#131722" textLength="16.0" lengthAdjust="spacingAndGlyphs">All</text>
<path d="M303.5 864V885.5M1432.5 864V885" stroke="#e0e3eb" stroke-width="1"/>
<text x="319.4" y="880.4" font-size="14" fill="#131722" textLength="48.9" lengthAdjust="spacingAndGlyphs">Go to...</text>
<text x="1322" y="880.1" font-size="14" fill="#131722" textLength="93.7" lengthAdjust="spacingAndGlyphs">09:19:39 (UTC)</text>
<text x="1449.6" y="880.1" font-size="14" fill="#131722" textLength="12.5" lengthAdjust="spacingAndGlyphs">%</text>
<text x="1477.6" y="880.1" font-size="14" fill="#131722" textLength="17.9" lengthAdjust="spacingAndGlyphs">log</text>
<text x="1510.2" y="880.1" font-size="14" fill="#2196f3" textLength="27.7" lengthAdjust="spacingAndGlyphs">auto</text>
</svg>
</body></html>
